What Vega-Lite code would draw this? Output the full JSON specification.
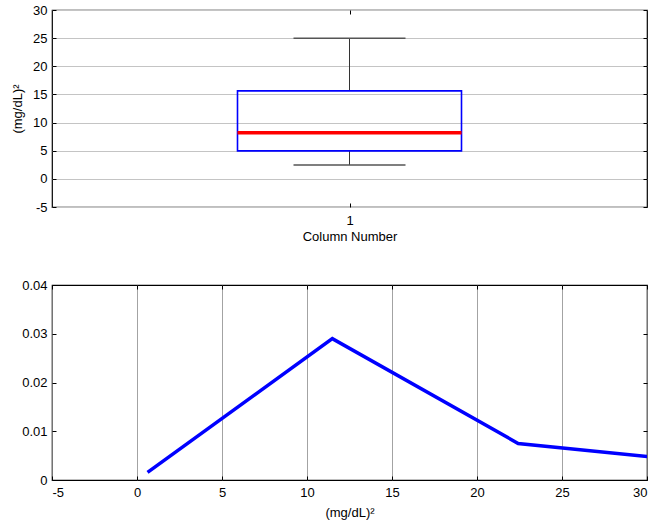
{
  "$schema": "https://vega.github.io/schema/vega-lite/v6.json",
  "padding": {"left": 10, "top": 3, "right": 0, "bottom": 0},
  "background": "white",
  "config": {
    "font": "Liberation Sans",
    "view": {"stroke": "black", "strokeWidth": 1.2},
    "axis": {
      "labelFont": "Liberation Sans",
      "titleFont": "Liberation Sans",
      "labelFontSize": 13,
      "titleFontSize": 13,
      "titleFontWeight": "normal",
      "labelColor": "black",
      "titleColor": "black",
      "domain": false,
      "tickColor": "black",
      "tickSize": -4,
      "labelPadding": 9
    }
  },
  "datasets": {
    "box": [{"col": "1", "lower": 2.47, "q1": 4.97, "median": 8.17, "q3": 15.64, "upper": 24.96}],
    "dens": [
      {"x": 0.62, "y": 0.00156},
      {"x": 11.49, "y": 0.029},
      {"x": 22.42, "y": 0.0075},
      {"x": 33.35, "y": 0.00365}
    ]
  },
  "spacing": 34,
  "vconcat": [
    {
      "width": 595,
      "height": 197,
      "data": {"name": "box"},
      "layer": [
        {
          "mark": {"type": "rule", "color": "#333333", "strokeWidth": 1},
          "encoding": {
            "x": {"field": "col", "type": "ordinal", "scale": {"type": "point", "padding": 0.5},
                  "axis": {"orient": "bottom", "title": "Column Number", "labelAngle": 0, "grid": false, "labelPadding": 11, "titlePadding": 3}},
            "y": {"field": "q3", "type": "quantitative", "scale": {"domain": [-5, 30], "nice": false, "zero": false},
                  "axis": {"orient": "left", "title": "(mg/dL)²", "values": [-5, 0, 5, 10, 15, 20, 25, 30], "labelExpr": "'' + datum.value",
                           "grid": true, "gridColor": "#c4c4c4", "gridWidth": 1.2, "titlePadding": 8}},
            "y2": {"field": "upper"}
          }
        },
        {
          "mark": {"type": "rule", "color": "#333333", "strokeWidth": 1},
          "encoding": {
            "x": {"field": "col", "type": "ordinal", "scale": {"type": "point", "padding": 0.5},
                  "axis": {"orient": "top", "title": null, "labels": false, "grid": false}},
            "y": {"field": "lower", "type": "quantitative",
                  "axis": {"orient": "right", "title": null, "labels": false, "grid": false, "values": [-5, 0, 5, 10, 15, 20, 25, 30]}},
            "y2": {"field": "q1"}
          }
        },
        {
          "mark": {"type": "tick", "orient": "horizontal", "size": 112, "thickness": 1.5, "color": "#555555", "opacity": 1},
          "encoding": {
            "x": {"field": "col", "type": "ordinal", "axis": null},
            "y": {"field": "upper", "type": "quantitative", "axis": null}
          }
        },
        {
          "mark": {"type": "tick", "orient": "horizontal", "size": 112, "thickness": 1.5, "color": "#555555", "opacity": 1},
          "encoding": {
            "x": {"field": "col", "type": "ordinal", "axis": null},
            "y": {"field": "lower", "type": "quantitative", "axis": null}
          }
        },
        {
          "mark": {"type": "bar", "size": 224, "fill": "white", "fillOpacity": 0, "stroke": "#0000ff", "strokeWidth": 1.6},
          "encoding": {
            "x": {"field": "col", "type": "ordinal", "axis": null},
            "y": {"field": "q1", "type": "quantitative", "axis": null},
            "y2": {"field": "q3"}
          }
        },
        {
          "mark": {"type": "tick", "orient": "horizontal", "size": 224, "thickness": 3.5, "color": "#ff0000", "opacity": 1},
          "encoding": {
            "x": {"field": "col", "type": "ordinal", "axis": null},
            "y": {"field": "median", "type": "quantitative", "axis": null}
          }
        }
      ],
      "resolve": {"axis": {"x": "independent", "y": "independent"}}
    },
    {
      "width": 595,
      "height": 195,
      "data": {"name": "dens"},
      "layer": [
        {
          "mark": {"type": "line", "color": "#0000ff", "strokeWidth": 3.5, "clip": true},
          "encoding": {
            "x": {"field": "x", "type": "quantitative", "scale": {"domain": [-5, 30], "nice": false, "zero": false},
                  "axis": {"orient": "bottom", "title": "(mg/dL)²", "values": [-5, 0, 5, 10, 15, 20, 25, 30], "labelExpr": "'' + datum.value",
                           "grid": true, "gridColor": "#8c8c8c", "gridWidth": 0.8, "labelPadding": 10, "titlePadding": 7}},
            "y": {"field": "y", "type": "quantitative", "scale": {"domain": [0, 0.04], "nice": false},
                  "axis": {"orient": "left", "title": null, "values": [0, 0.01, 0.02, 0.03, 0.04], "labelExpr": "'' + datum.value", "grid": false}}
          }
        },
        {
          "mark": {"type": "line", "opacity": 0, "clip": true},
          "encoding": {
            "x": {"field": "x", "type": "quantitative",
                  "axis": {"orient": "top", "title": null, "labels": false, "grid": false, "values": [-5, 0, 5, 10, 15, 20, 25, 30]}},
            "y": {"field": "y", "type": "quantitative",
                  "axis": {"orient": "right", "title": null, "labels": false, "grid": false, "values": [0, 0.01, 0.02, 0.03, 0.04]}}
          }
        }
      ],
      "resolve": {"axis": {"x": "independent", "y": "independent"}}
    }
  ]
}
